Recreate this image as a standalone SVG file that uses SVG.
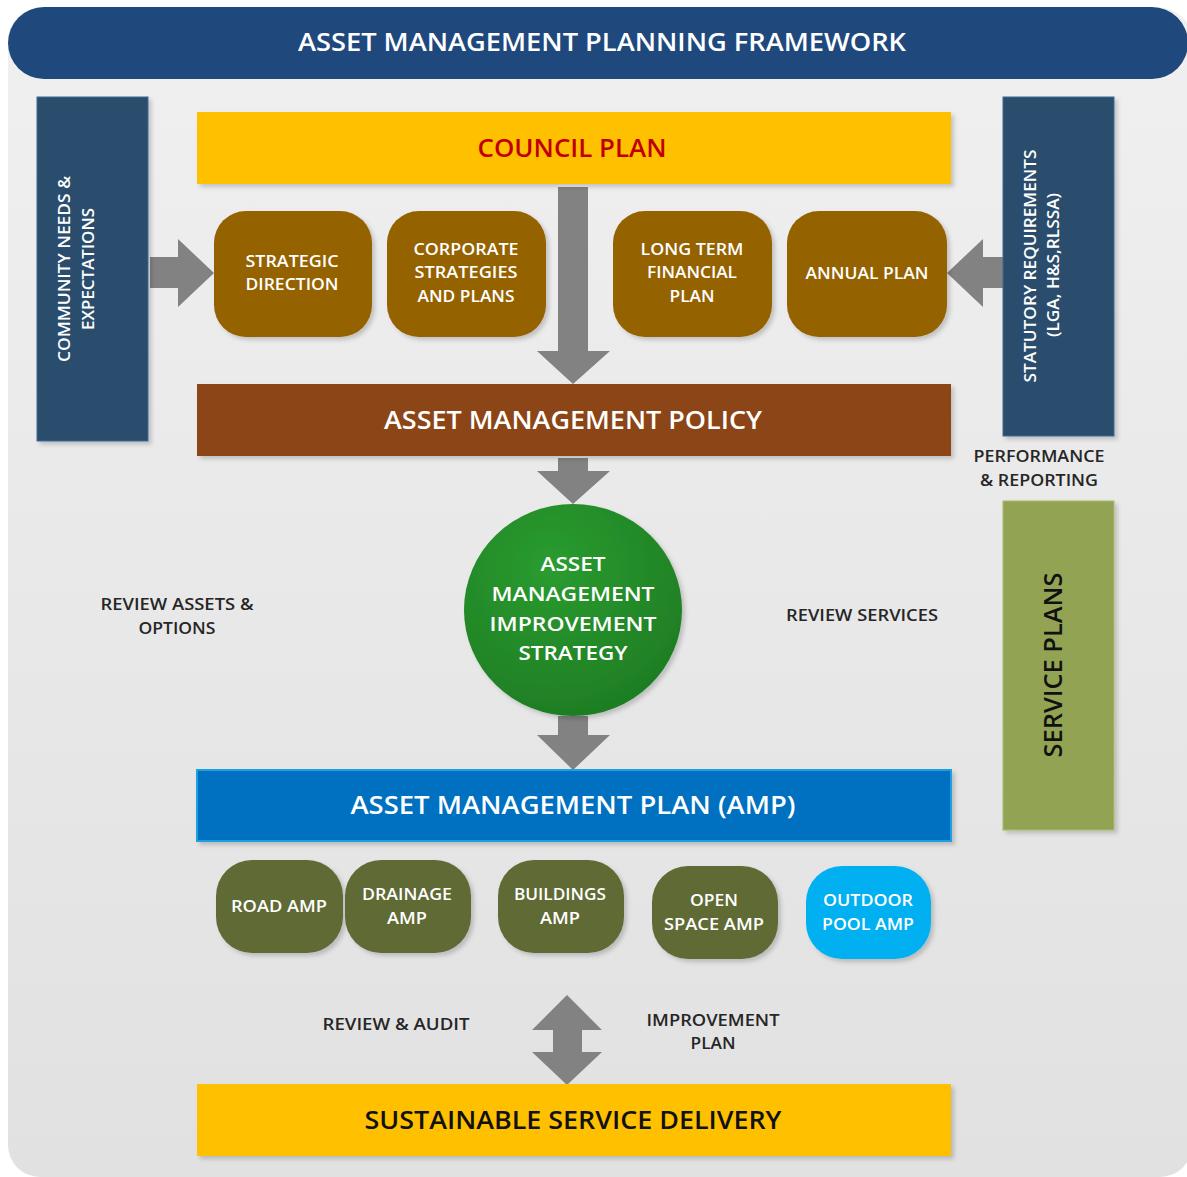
<svg xmlns="http://www.w3.org/2000/svg" width="1187" height="1177" viewBox="0 0 1187 1177">
<defs>
<linearGradient id="bg" x1="0" y1="0" x2="0" y2="1"><stop offset="0" stop-color="#f0f0f0"/><stop offset="1" stop-color="#e1e1e1"/></linearGradient>
<radialGradient id="grn" cx="0.4" cy="0.3" r="0.8"><stop offset="0" stop-color="#2a9c2f"/><stop offset="1" stop-color="#1d7a22"/></radialGradient>
<filter id="sh" x="-10%" y="-10%" width="125%" height="125%"><feDropShadow dx="3" dy="3" stdDeviation="2" flood-color="#000" flood-opacity="0.18"/></filter>
<style>
.t{font-family:"Open Sans","Liberation Sans",sans-serif;font-weight:600;text-anchor:middle}
.w{fill:#ffffff}
.d{fill:#262626}
.big{font-size:25px}
.sm{font-size:17px}
.lb{font-size:16.5px}
.arr{fill:#828282}
</style>
</defs>
<rect x="0" y="0" width="1187" height="1177" fill="#ffffff"/>
<rect x="8" y="8" width="1184" height="1169" rx="32" fill="url(#bg)"/>
<g id="title">
<rect x="8" y="7" width="1180" height="72" rx="36" fill="#1f497d"/>
<text class="t w big" x="602" y="51" textLength="608" lengthAdjust="spacingAndGlyphs">ASSET MANAGEMENT PLANNING FRAMEWORK</text>
</g>
<g id="connectors">
<polygon class="arr" points="150,257 178,257 178,239 214,273 178,307 178,288 150,288"/>
<polygon class="arr" points="1003,257 983,257 983,239 947,273 983,307 983,288 1003,288"/>
<polygon class="arr" points="558,187 588,187 588,351 610,351 573,384 537,351 558,351"/>
<polygon class="arr" points="558,458 588,458 588,471 610,471 573,504 537,471 558,471"/>
<polygon class="arr" points="558,716 588,716 588,735 610,735 573,770 537,735 558,735"/>
<polygon class="arr" points="567,995 602,1030 582,1030 582,1052 602,1052 567,1085 532,1052 553,1052 553,1030 532,1030"/>
</g>
<g id="community">
<rect x="37" y="97" width="111" height="344" fill="#2a4d6e" stroke="#3d6a95" stroke-width="1" filter="url(#sh)"/>
<text class="t w lb" transform="translate(64,269) rotate(-90)" x="0" y="6" textLength="186" lengthAdjust="spacingAndGlyphs">COMMUNITY NEEDS &amp;</text>
<text class="t w lb" transform="translate(88,269) rotate(-90)" x="0" y="6" textLength="122" lengthAdjust="spacingAndGlyphs">EXPECTATIONS</text>
</g>
<g id="statutory">
<rect x="1003" y="97" width="111" height="339" fill="#2a4d6e" stroke="#3d6a95" stroke-width="1" filter="url(#sh)"/>
<text class="t w lb" transform="translate(1030,266) rotate(-90)" x="0" y="6" textLength="233" lengthAdjust="spacingAndGlyphs">STATUTORY REQUIREMENTS</text>
<text class="t w lb" transform="translate(1053,265) rotate(-90)" x="0" y="6" textLength="144" lengthAdjust="spacingAndGlyphs">(LGA, H&amp;S,RLSSA)</text>
</g>
<g id="council-plan">
<rect x="197" y="112" width="754" height="72" fill="#ffc000" filter="url(#sh)"/>
<text class="t big" x="572" y="157" fill="#c00000" textLength="189" lengthAdjust="spacingAndGlyphs">COUNCIL PLAN</text>
</g>
<g id="strategic-direction">
<rect x="214" y="211" width="158" height="126" rx="32" fill="#956205" filter="url(#sh)"/>
<text class="t w sm" x="292" y="267" textLength="93" lengthAdjust="spacingAndGlyphs">STRATEGIC</text>
<text class="t w sm" x="292" y="290" textLength="93" lengthAdjust="spacingAndGlyphs">DIRECTION</text>
</g>
<g id="corporate">
<rect x="387" y="211" width="159" height="126" rx="32" fill="#956205" filter="url(#sh)"/>
<text class="t w sm" x="466" y="255" textLength="105" lengthAdjust="spacingAndGlyphs">CORPORATE</text>
<text class="t w sm" x="466" y="278" textLength="103" lengthAdjust="spacingAndGlyphs">STRATEGIES</text>
<text class="t w sm" x="466" y="302" textLength="97" lengthAdjust="spacingAndGlyphs">AND PLANS</text>
</g>
<g id="ltfp">
<rect x="613" y="211" width="159" height="126" rx="32" fill="#956205" filter="url(#sh)"/>
<text class="t w sm" x="692" y="255" textLength="103" lengthAdjust="spacingAndGlyphs">LONG TERM</text>
<text class="t w sm" x="692" y="278" textLength="90" lengthAdjust="spacingAndGlyphs">FINANCIAL</text>
<text class="t w sm" x="692" y="302" textLength="45" lengthAdjust="spacingAndGlyphs">PLAN</text>
</g>
<g id="annual-plan">
<rect x="787" y="211" width="160" height="126" rx="32" fill="#956205" filter="url(#sh)"/>
<text class="t w sm" x="867" y="279" textLength="123" lengthAdjust="spacingAndGlyphs">ANNUAL PLAN</text>
</g>
<g id="policy">
<rect x="197" y="384" width="754" height="72" fill="#8b4513" filter="url(#sh)"/>
<text class="t w big" x="573" y="429" textLength="378" lengthAdjust="spacingAndGlyphs">ASSET MANAGEMENT POLICY</text>
</g>
<g id="performance-label">
<text class="t d lb" x="1039" y="462" textLength="131" lengthAdjust="spacingAndGlyphs">PERFORMANCE</text>
<text class="t d lb" x="1039" y="486" textLength="118" lengthAdjust="spacingAndGlyphs">&amp; REPORTING</text>
</g>
<g id="strategy">
<ellipse cx="573" cy="610" rx="109" ry="106" fill="url(#grn)" filter="url(#sh)"/>
<text class="t w" font-size="20" x="573" y="571" textLength="65" lengthAdjust="spacingAndGlyphs">ASSET</text>
<text class="t w" font-size="20" x="573" y="601" textLength="163" lengthAdjust="spacingAndGlyphs">MANAGEMENT</text>
<text class="t w" font-size="20" x="573" y="631" textLength="167" lengthAdjust="spacingAndGlyphs">IMPROVEMENT</text>
<text class="t w" font-size="20" x="573" y="660" textLength="109" lengthAdjust="spacingAndGlyphs">STRATEGY</text>
</g>
<g id="review-assets">
<text class="t d lb" x="177" y="610" textLength="153" lengthAdjust="spacingAndGlyphs">REVIEW ASSETS &amp;</text>
<text class="t d lb" x="177" y="634" textLength="77" lengthAdjust="spacingAndGlyphs">OPTIONS</text>
</g>
<g id="review-services">
<text class="t d lb" x="862" y="621" textLength="152" lengthAdjust="spacingAndGlyphs">REVIEW SERVICES</text>
</g>
<g id="service-plans">
<rect x="1003" y="501" width="111" height="329" fill="#92a452" stroke="#a9ba6e" stroke-width="1" filter="url(#sh)"/>
<text class="t big" fill="#111111" transform="translate(1053,665) rotate(-90)" x="0" y="9" textLength="185" lengthAdjust="spacingAndGlyphs">SERVICE PLANS</text>
</g>
<g id="amp">
<rect x="197" y="770" width="754" height="71" fill="#0070c0" stroke="#1aa0e0" stroke-width="2" filter="url(#sh)"/>
<text class="t w big" x="573" y="814" textLength="445" lengthAdjust="spacingAndGlyphs">ASSET MANAGEMENT PLAN (AMP)</text>
</g>
<g id="road-amp">
<rect x="216" y="860" width="127" height="93" rx="36" fill="#5f6b34" filter="url(#sh)"/>
<text class="t w sm" x="279" y="912" textLength="96" lengthAdjust="spacingAndGlyphs">ROAD AMP</text>
</g>
<g id="drainage-amp">
<rect x="345" y="860" width="126" height="93" rx="36" fill="#5f6b34" filter="url(#sh)"/>
<text class="t w sm" x="407" y="900" textLength="90" lengthAdjust="spacingAndGlyphs">DRAINAGE</text>
<text class="t w sm" x="407" y="924" textLength="40" lengthAdjust="spacingAndGlyphs">AMP</text>
</g>
<g id="buildings-amp">
<rect x="498" y="860" width="126" height="93" rx="36" fill="#5f6b34" filter="url(#sh)"/>
<text class="t w sm" x="560" y="900" textLength="92" lengthAdjust="spacingAndGlyphs">BUILDINGS</text>
<text class="t w sm" x="560" y="924" textLength="40" lengthAdjust="spacingAndGlyphs">AMP</text>
</g>
<g id="open-space-amp">
<rect x="652" y="866" width="126" height="93" rx="36" fill="#5f6b34" filter="url(#sh)"/>
<text class="t w sm" x="714" y="906" textLength="48" lengthAdjust="spacingAndGlyphs">OPEN</text>
<text class="t w sm" x="714" y="930" textLength="100" lengthAdjust="spacingAndGlyphs">SPACE AMP</text>
</g>
<g id="pool-amp">
<rect x="806" y="866" width="125" height="93" rx="36" fill="#00b0f0" filter="url(#sh)"/>
<text class="t w sm" x="868" y="906" textLength="90" lengthAdjust="spacingAndGlyphs">OUTDOOR</text>
<text class="t w sm" x="868" y="930" textLength="92" lengthAdjust="spacingAndGlyphs">POOL AMP</text>
</g>
<g id="review-audit">
<text class="t d lb" x="396" y="1030" textLength="147" lengthAdjust="spacingAndGlyphs">REVIEW &amp; AUDIT</text>
</g>
<g id="improvement-plan">
<text class="t d lb" x="713" y="1026" textLength="133" lengthAdjust="spacingAndGlyphs">IMPROVEMENT</text>
<text class="t d lb" x="713" y="1049" textLength="45" lengthAdjust="spacingAndGlyphs">PLAN</text>
</g>
<g id="sustainable">
<rect x="197" y="1084" width="754" height="72" fill="#ffc000" filter="url(#sh)"/>
<text class="t big" fill="#111111" x="573" y="1129" textLength="417" lengthAdjust="spacingAndGlyphs">SUSTAINABLE SERVICE DELIVERY</text>
</g>
</svg>
